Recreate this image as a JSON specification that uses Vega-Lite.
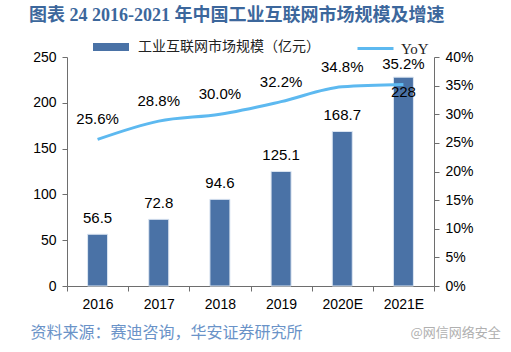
{
  "$schema": "https://vega.github.io/schema/vega-lite/v6.json",
  "width": 367,
  "height": 229,
  "autosize": {"type": "none"},
  "padding": {"left": 67, "top": 57, "right": 77, "bottom": 66},
  "background": "white",
  "title": {
    "text": "图表 24 2016-2021 年中国工业互联网市场规模及增速",
    "anchor": "start",
    "frame": "group",
    "orient": "top",
    "dx": -38,
    "offset": -5,
    "font": "Liberation Serif, Noto Sans CJK SC",
    "fontSize": 18,
    "fontWeight": "bold",
    "color": "#3C679C",
    "baseline": "middle"
  },
  "data": {
    "values": [
      {"year": "2016", "size": 56.5, "yoy": 0.256},
      {"year": "2017", "size": 72.8, "yoy": 0.288},
      {"year": "2018", "size": 94.6, "yoy": 0.300},
      {"year": "2019", "size": 125.1, "yoy": 0.322},
      {"year": "2020E", "size": 168.7, "yoy": 0.348},
      {"year": "2021E", "size": 228, "yoy": 0.352}
    ]
  },
  "encoding": {
    "x": {
      "field": "year",
      "type": "nominal",
      "sort": null,
      "scale": {"paddingInner": 0, "paddingOuter": 0},
      "axis": {
        "labelAngle": 0,
        "labelFont": "Liberation Sans",
        "labelFontSize": 14,
        "labelColor": "#000000",
        "labelPadding": 6,
        "tickBand": "extent",
        "tickSize": 5,
        "tickColor": "#6e6e6e",
        "domainColor": "#6e6e6e",
        "title": "资料来源：赛迪咨询，华安证券研究所",
        "titleFont": "Noto Sans CJK SC",
        "titleFontSize": 16,
        "titleFontWeight": "normal",
        "titleColor": "#6A93C8",
        "titleAnchor": "start",
        "titleAlign": "left",
        "titleBaseline": "middle",
        "titleX": -37,
        "titleY": 46
      }
    }
  },
  "layer": [
    {
      "encoding": {
        "y": {
          "field": "size",
          "type": "quantitative",
          "scale": {"domain": [0, 250], "nice": false},
          "axis": {
            "orient": "left",
            "values": [0, 50, 100, 150, 200, 250],
            "grid": false,
            "title": null,
            "labelFont": "Liberation Sans",
            "labelFontSize": 14,
            "labelColor": "#000000",
            "labelOverlap": false,
            "tickSize": 5,
            "tickColor": "#6e6e6e",
            "domainColor": "#6e6e6e",
            "labelPadding": 6
          }
        }
      },
      "layer": [
        {
          "mark": {"type": "bar", "width": 20, "stroke": "#dce6f2", "strokeWidth": 1},
          "encoding": {
            "fill": {
              "datum": "工业互联网市场规模（亿元）",
              "scale": {"range": ["#4A72A6"]},
              "legend": {
                "orient": "none",
                "legendX": 26,
                "legendY": -28,
                "title": null,
                "symbolType": "M-1,-0.22H1V0.22H-1Z",
                "symbolSize": 1296,
                "symbolStrokeWidth": 0,
                "labelFont": "Noto Sans CJK SC",
                "labelFontSize": 14,
                "labelColor": "#222222",
                "labelOffset": 9,
                "labelLimit": 400
              }
            }
          }
        },
        {
          "transform": [{"filter": "datum.year !== '2021E'"}],
          "mark": {"type": "text", "dy": -16, "font": "Liberation Sans", "fontSize": 15, "color": "#000000"},
          "encoding": {
            "text": {"field": "size", "type": "quantitative", "format": ".1f"}
          }
        },
        {
          "transform": [{"filter": "datum.year === '2021E'"}],
          "mark": {"type": "text", "dy": 15, "font": "Liberation Sans", "fontSize": 15, "color": "#000000"},
          "encoding": {
            "text": {"field": "size", "type": "quantitative", "format": "d"}
          }
        }
      ]
    },
    {
      "encoding": {
        "y": {
          "field": "yoy",
          "type": "quantitative",
          "scale": {"domain": [0, 0.4], "nice": false},
          "axis": {
            "orient": "right",
            "values": [0, 0.05, 0.1, 0.15, 0.2, 0.25, 0.3, 0.35, 0.4],
            "format": ".0%",
            "grid": false,
            "labelFont": "Liberation Sans",
            "labelFontSize": 14,
            "labelColor": "#000000",
            "labelOverlap": false,
            "tickSize": 5,
            "tickColor": "#6e6e6e",
            "domainColor": "#6e6e6e",
            "labelPadding": 6,
            "title": "@网信网络安全",
            "titleAngle": 0,
            "titleFont": "Noto Sans CJK SC",
            "titleFontSize": 13,
            "titleFontWeight": "normal",
            "titleColor": "#b0b0b0",
            "titleAlign": "left",
            "titleBaseline": "middle",
            "titleX": -24,
            "titleY": 275
          }
        }
      },
      "layer": [
        {
          "mark": {"type": "line", "interpolate": "monotone", "strokeWidth": 3},
          "encoding": {
            "stroke": {
              "datum": "YoY",
              "scale": {"range": ["#5DB9F0"]},
              "legend": {
                "orient": "none",
                "legendX": 289,
                "legendY": -28,
                "title": null,
                "symbolSize": 1296,
                "symbolStrokeWidth": 3,
                "labelFont": "Liberation Serif",
                "labelFontSize": 15,
                "labelColor": "#222222",
                "labelOffset": 6
              }
            }
          }
        },
        {
          "mark": {"type": "text", "dy": -20, "font": "Liberation Sans", "fontSize": 15, "color": "#000000"},
          "encoding": {
            "text": {"field": "yoy", "type": "quantitative", "format": ".1%"}
          }
        }
      ]
    }
  ],
  "resolve": {"scale": {"y": "independent", "fill": "independent", "stroke": "independent"}},
  "config": {"view": {"stroke": null}}
}
